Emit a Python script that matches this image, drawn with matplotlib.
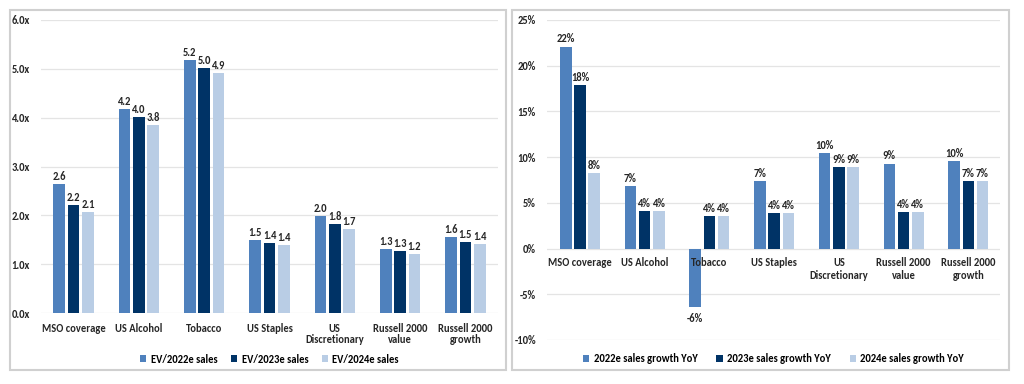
import matplotlib
matplotlib.use("Agg")
import matplotlib.pyplot as plt
from matplotlib.patches import Rectangle
import numpy as np

plt.rcParams['font.family'] = ['Carlito', 'DejaVu Sans']

categories = ["MSO coverage", "US Alcohol", "Tobacco", "US Staples",
              "US\nDiscretionary", "Russell 2000\nvalue", "Russell 2000\ngrowth"]

ev_2022 = [2.64, 4.17, 5.18, 1.49, 1.98, 1.31, 1.56]
ev_2023 = [2.21, 4.01, 5.01, 1.43, 1.82, 1.27, 1.46]
ev_2024 = [2.06, 3.84, 4.91, 1.39, 1.72, 1.21, 1.42]
ev_labels = ["EV/2022e sales", "EV/2023e sales", "EV/2024e sales"]

gr_2022 = [22.1, 6.8, -6.4, 7.4, 10.4, 9.3, 9.6]
gr_2023 = [17.9, 4.1, 3.55, 3.85, 8.95, 4.0, 7.4]
gr_2024 = [8.3, 4.1, 3.55, 3.85, 8.95, 4.0, 7.4]
gr_labels = ["2022e sales growth YoY", "2023e sales growth YoY", "2024e sales growth YoY"]

colors = ["#4F81BD", "#003366", "#B9CDE5"]

W, H = 1024, 384
fig = plt.figure(figsize=(W / 100, H / 100), dpi=100)
fig.patch.set_facecolor("white")

# panel borders
for (x0, x1) in [(10, 506), (512, 1009)]:
    fig.patches.append(Rectangle((x0 / W, 1 - 370 / H), (x1 - x0) / W, 360 / H,
                                 transform=fig.transFigure, fill=False,
                                 edgecolor="#D0D0D0", linewidth=1.5))

FS = 7.6
TXT = "#262626"
x = np.arange(len(categories))
offs = [-0.22, 0.0, 0.22]
bw = 0.178

def style(ax, yticks):
    for s in ax.spines.values():
        s.set_visible(False)
    ax.tick_params(axis="both", length=0, labelsize=FS)
    for t in yticks:
        ax.axhline(t, color="#E4E4E4", linewidth=0.9, zorder=0)
    ax.set_axisbelow(False)
    for lab in ax.get_xticklabels() + ax.get_yticklabels():
        lab.set_fontweight("bold")
        lab.set_color(TXT)

# Left panel
ax1 = fig.add_axes([41 / W, 1 - 313 / H, 457 / W, 293 / H])
for i, (vals, c, lab) in enumerate(zip([ev_2022, ev_2023, ev_2024], colors, ev_labels)):
    bars = ax1.bar(x + offs[i], vals, bw, color=c, label=lab, zorder=1)
    for b, v in zip(bars, vals):
        ax1.annotate(f"{v:.1f}", (b.get_x() + b.get_width() / 2, v), xytext=(0, 1.5),
                     textcoords="offset points", ha="center", va="bottom",
                     fontsize=FS, fontweight="bold", color=TXT)
yt1 = np.arange(0, 6.01, 1)
ax1.set_ylim(0, 6)
ax1.set_yticks(yt1)
ax1.set_yticklabels([f"{t:.1f}x" for t in yt1])
ax1.set_xlim(-0.5, 6.5)
ax1.set_xticks(x)
ax1.set_xticklabels(categories, linespacing=1.05)
ax1.tick_params(axis="x", pad=7)
ax1.tick_params(axis="y", pad=8)
style(ax1, yt1)
ax1.legend(loc="center", bbox_to_anchor=(0.5, -0.157), ncol=3, frameon=False,
           prop={"weight": "bold", "size": FS}, handlelength=0.6,
           handleheight=0.6, columnspacing=1.3, handletextpad=0.4)

# Right panel
ax2 = fig.add_axes([547 / W, 1 - 340 / H, 453 / W, 320 / H])
for i, (vals, c, lab) in enumerate(zip([gr_2022, gr_2023, gr_2024], colors, gr_labels)):
    bars = ax2.bar(x + offs[i], vals, bw, color=c, label=lab, zorder=1)
    for b, v in zip(bars, vals):
        if v >= 0:
            ax2.annotate(f"{v:.0f}%", (b.get_x() + b.get_width() / 2, v), xytext=(0, 1.5),
                         textcoords="offset points", ha="center", va="bottom",
                         fontsize=FS, fontweight="bold", color=TXT)
        else:
            ax2.annotate(f"{v:.0f}%", (b.get_x() + b.get_width() / 2, v), xytext=(0, -4),
                         textcoords="offset points", ha="center", va="top",
                         fontsize=FS, fontweight="bold", color=TXT)
yt2 = np.arange(-10, 25.1, 5)
ax2.set_ylim(-10, 25)
ax2.set_yticks(yt2)
ax2.set_yticklabels([f"{t:.0f}%" for t in yt2])
ax2.set_xlim(-0.51, 6.49)
ax2.set_xticks(x)
ax2.set_xticklabels(categories, linespacing=1.05)
ax2.spines["bottom"].set_position(("data", 0))
ax2.tick_params(axis="x", pad=6)
ax2.tick_params(axis="y", pad=8)
style(ax2, yt2)
ax2.legend(loc="center", bbox_to_anchor=(0.5, -0.059), ncol=3, frameon=False,
           prop={"weight": "bold", "size": FS}, handlelength=0.6,
           handleheight=0.6, columnspacing=1.8, handletextpad=0.4)

fig.savefig("out.png", dpi=100, facecolor="white")
